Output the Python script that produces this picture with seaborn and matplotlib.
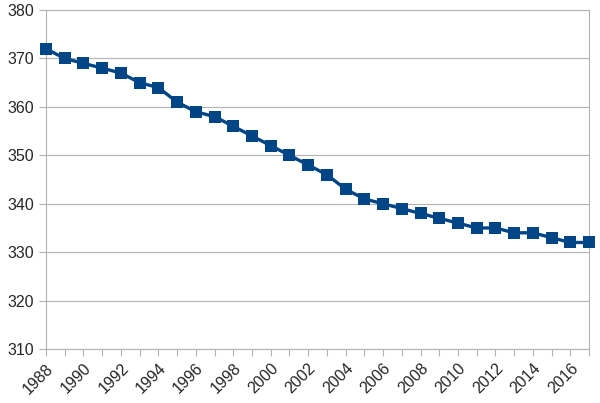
import matplotlib
matplotlib.use('Agg')
import matplotlib.pyplot as plt
import seaborn as sns
import pandas as pd

years = list(range(1988, 2018))
values = [372, 370, 369, 368, 367, 365, 364, 361, 359, 358,
          356, 354, 352, 350, 348, 346, 343, 341, 340, 339,
          338, 337, 336, 335, 335, 334, 334, 333, 332, 332]
label_years = list(range(1988, 2017, 2))

df = pd.DataFrame({'year': years, 'value': values})

sns.set_style('white')
plt.rcParams['font.family'] = ['Liberation Sans', 'DejaVu Sans']

fig = plt.figure(figsize=(6, 4.03), dpi=100)
ax = fig.add_axes([0.0767, 0.134, 0.905, 0.841])

sns.lineplot(data=df, x='year', y='value', ax=ax, color='#004586',
             linewidth=2.4, marker='s', markersize=9, markeredgewidth=0,
             clip_on=False, zorder=3)

ax.set_xlim(1988, 2017)
ax.set_ylim(310, 380)
ax.set_yticks(range(310, 381, 10))
ax.set_xticks(years, minor=True)
ax.set_xticks(label_years)
ax.set_xticklabels([str(y) for y in label_years], rotation=45,
                   ha='right', rotation_mode='anchor')
ax.grid(axis='y', color='#b3b3b3', linewidth=0.8)
ax.set_axisbelow(True)
for s in ax.spines.values():
    s.set_color('#b3b3b3')
    s.set_linewidth(0.8)
ax.tick_params(axis='both', which='both', color='#b3b3b3', length=5,
               width=0.8, labelsize=11.5, direction='out')
ax.tick_params(axis='x', which='both', bottom=True)
ax.tick_params(axis='y', left=True)
ax.set_xlabel('')
ax.set_ylabel('')

fig.savefig('out.png', dpi=100)
